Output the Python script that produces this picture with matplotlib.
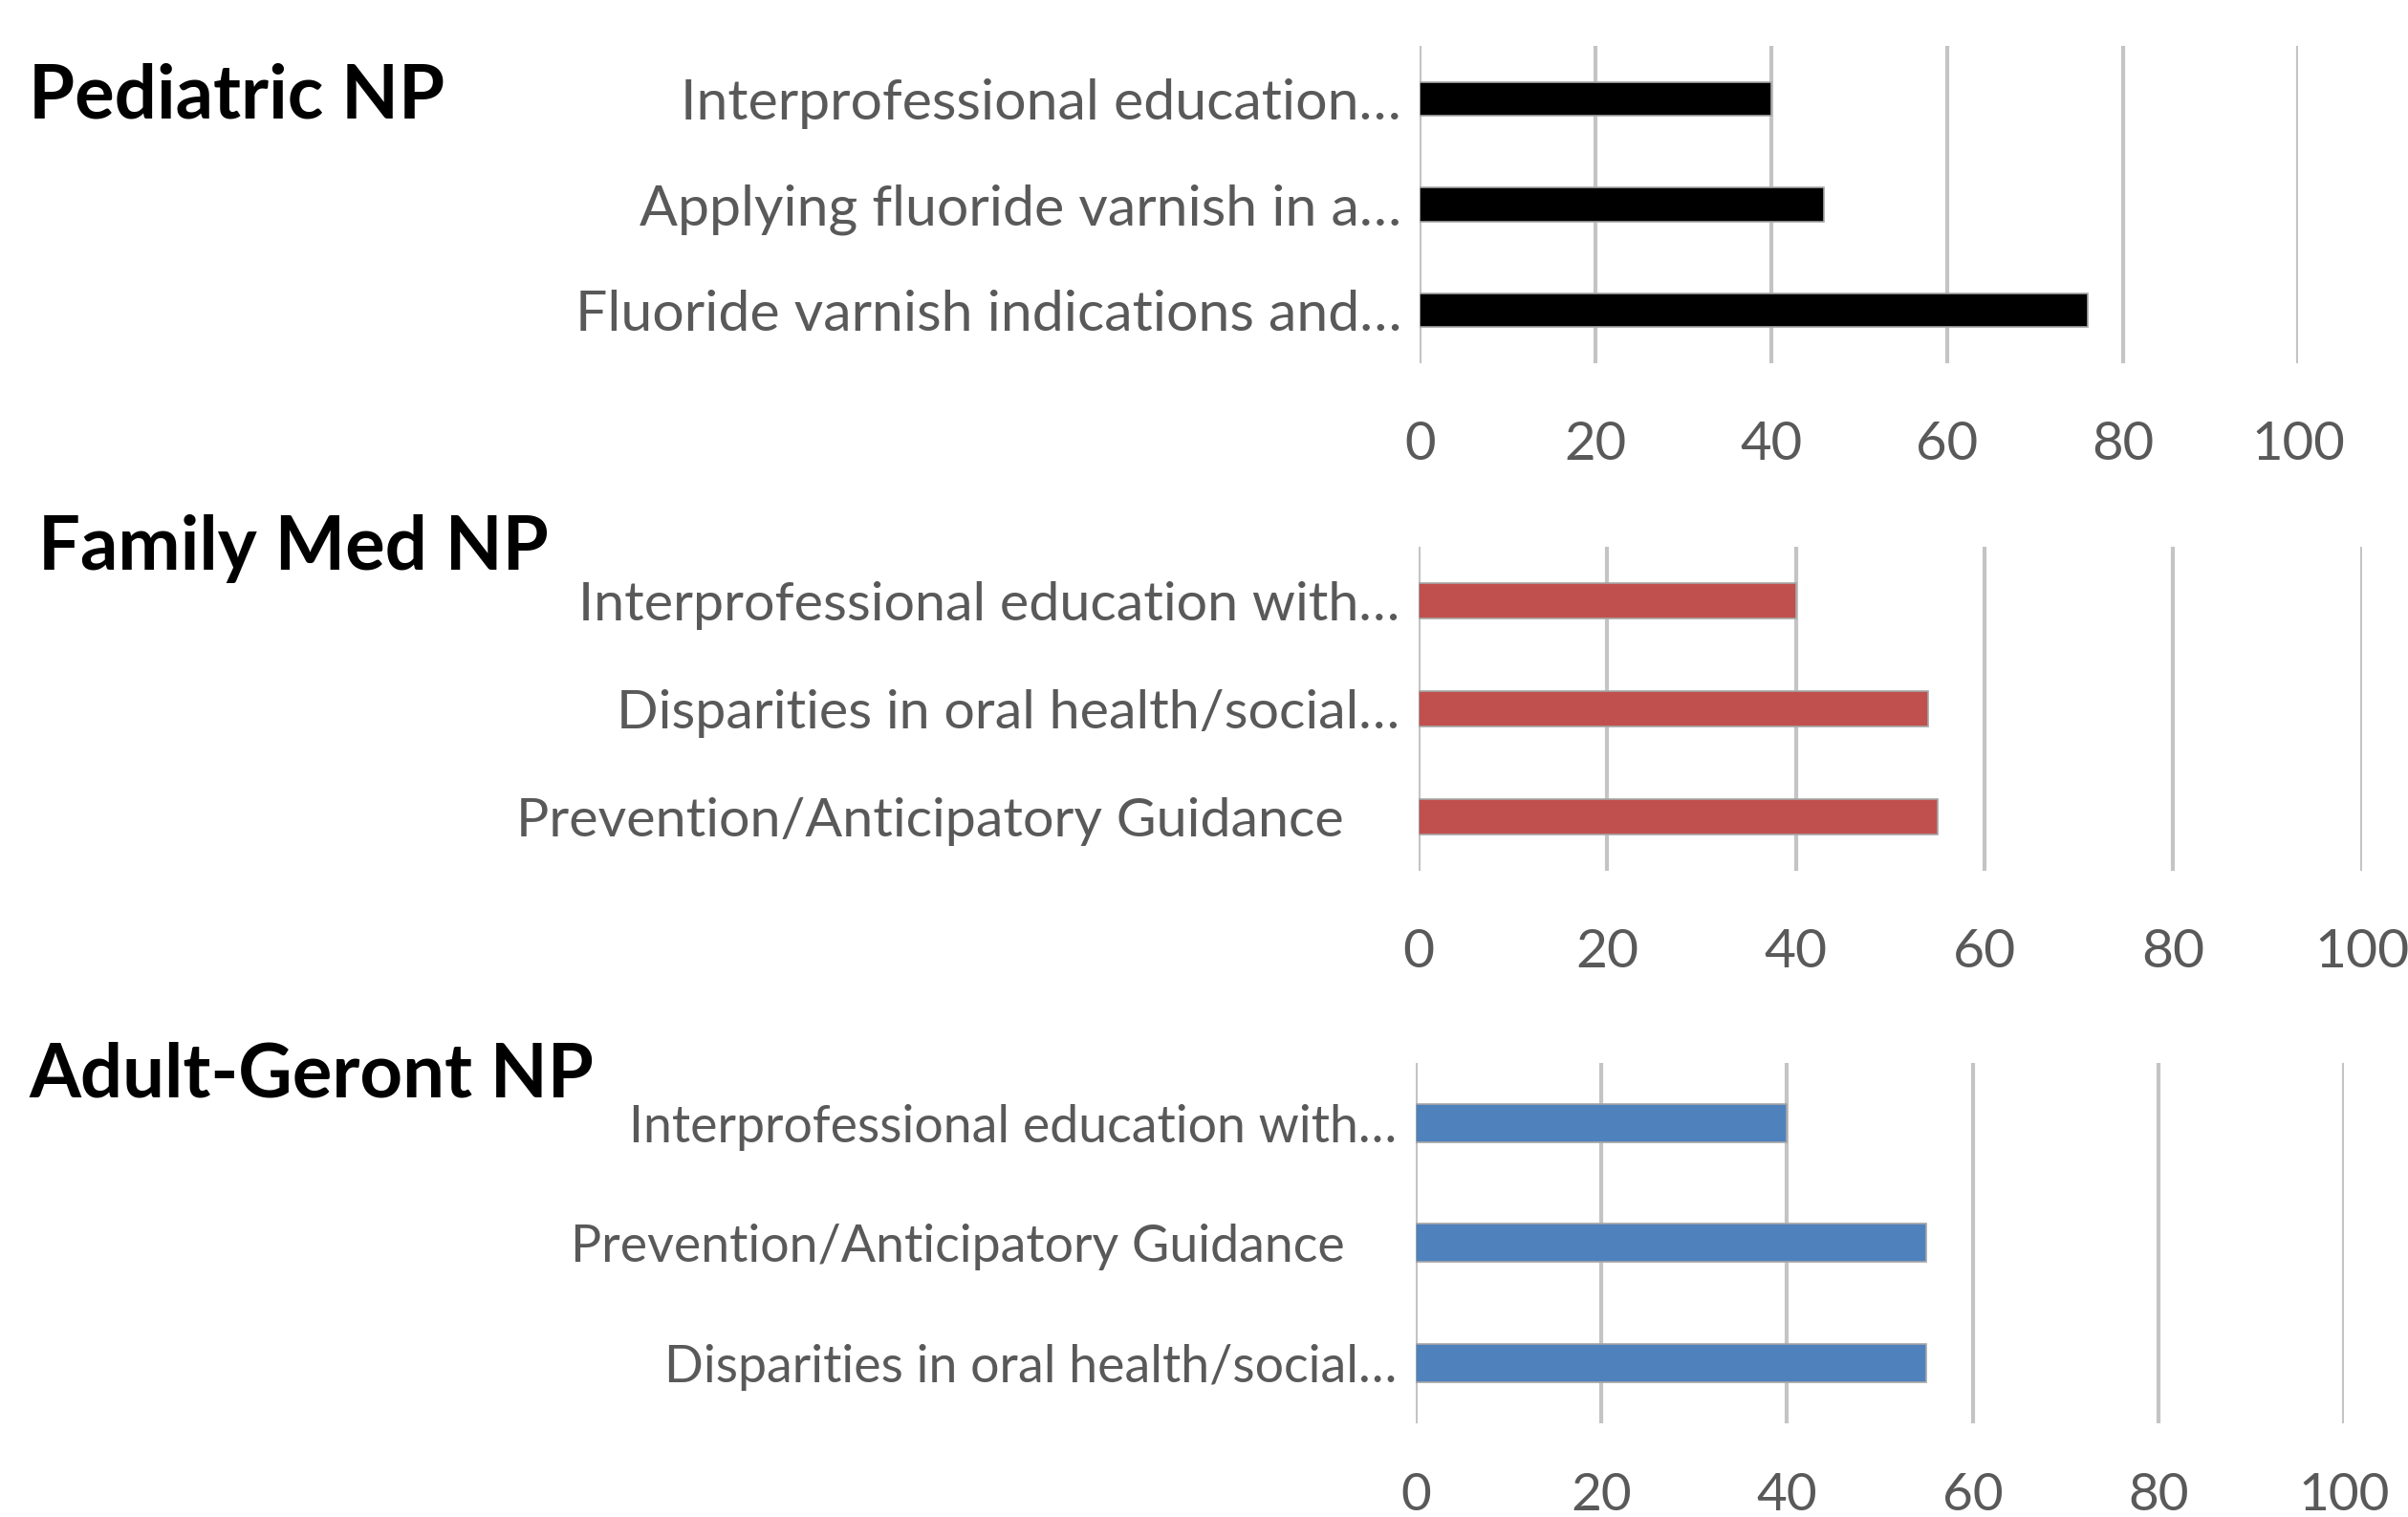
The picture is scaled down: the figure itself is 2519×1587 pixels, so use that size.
import matplotlib
matplotlib.use("Agg")
import matplotlib.pyplot as plt

# Survey results: percentage of programs covering each oral-health topic
panel_titles = ["Pediatric NP", "Family Med NP", "Adult-Geront NP"]

pediatric_topics = [
    "Interprofessional education\u2026",
    "Applying fluoride varnish in a\u2026",
    "Fluoride varnish indications and\u2026",
]
pediatric_values = [40, 46, 76]

family_topics = [
    "Interprofessional education with\u2026",
    "Disparities in oral health/social\u2026",
    "Prevention/Anticipatory Guidance    ",
]
family_values = [40, 54, 55]

adult_topics = [
    "Interprofessional education with\u2026",
    "Prevention/Anticipatory Guidance    ",
    "Disparities in oral health/social\u2026",
]
adult_values = [40, 55, 55]

x_ticks = [0, 20, 40, 60, 80, 100]

panels = [
    (pediatric_topics, pediatric_values, "#000000"),
    (family_topics, family_values, "#C0504D"),
    (adult_topics, adult_values, "#4F81BD"),
]

# axes boxes [left, bottom, width, height] in figure fractions
axes_boxes = [
    [0.5897, 0.7606, 0.3648, 0.2092],
    [0.5891, 0.4260, 0.3918, 0.2136],
    [0.5879, 0.0618, 0.3855, 0.2376],
]
title_pos = [(0.012, 0.936), (0.016, 0.638), (0.012, 0.291)]
label_sizes = [42.5, 41.3, 38.7]
tick_sizes = [40.5, 41, 39.5]
tick_pads = [43, 43, 37]

W, H, DPI = 2519, 1587, 100
fig = plt.figure(figsize=(W / DPI, H / DPI), dpi=DPI)
fig.patch.set_facecolor("white")

FONT = "Lato"
title_size = 56
grid_color = "#c4c4c4"
text_gray = "#595959"

for i, ((topics, values, color), box, title, tpos) in enumerate(
        zip(panels, axes_boxes, panel_titles, title_pos)):
    ax = fig.add_axes(box)
    ypos = list(range(len(topics)))
    ax.barh(ypos, values, height=0.32, color=color, edgecolor="#a6a6a6",
            linewidth=1.2, zorder=3)
    ax.set_xlim(0, 100)
    ax.set_ylim(len(topics) - 0.5, -0.5)
    ax.set_xticks(x_ticks)
    ax.set_xticklabels([str(t) for t in x_ticks], fontsize=tick_sizes[i],
                       color=text_gray, family=FONT)
    ax.set_yticks(ypos)
    ax.set_yticklabels(topics, fontsize=label_sizes[i], color=text_gray, family=FONT)
    ax.tick_params(axis="both", length=0)
    ax.tick_params(axis="y", pad=14)
    ax.tick_params(axis="x", pad=tick_pads[i])
    for t in x_ticks:
        ax.axvline(t, color=grid_color, linewidth=3.0, zorder=1)
    for s in ax.spines.values():
        s.set_visible(False)
    ax.set_facecolor("none")
    fig.text(tpos[0], tpos[1], title, fontsize=title_size, fontweight="bold",
             family=FONT, color="black", ha="left", va="center")

fig.savefig("out.png", dpi=DPI)
